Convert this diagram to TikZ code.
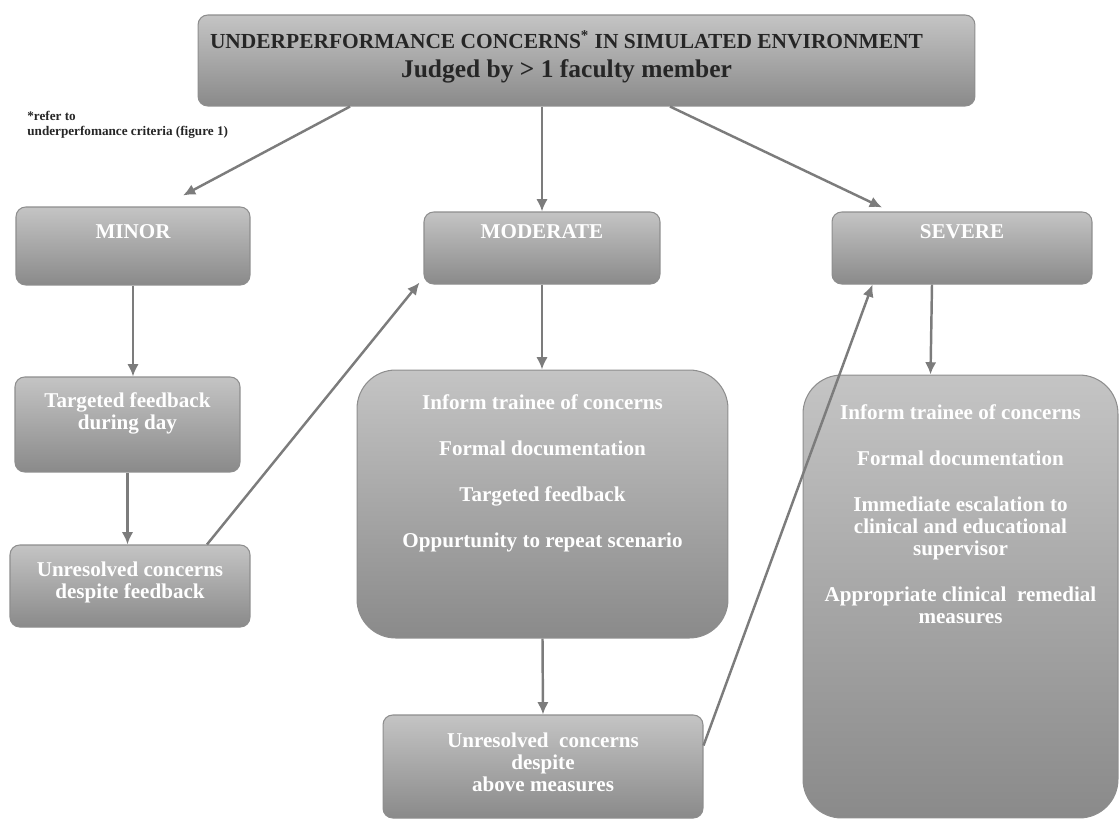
\documentclass[tikz,border=0pt]{standalone}
\usepackage{fontspec}
\setmainfont{Liberation Serif}
\usepackage{tikz}
\usetikzlibrary{arrows.meta,positioning,calc}
\definecolor{boxtop}{HTML}{C4C4C4}
\definecolor{boxbot}{HTML}{8A8A8A}
\definecolor{boxline}{HTML}{8E8E8E}
\definecolor{arrowgray}{HTML}{7C7C7C}
\definecolor{inkdark}{HTML}{262626}
\tikzset{
  flowbox/.style={rectangle,rounded corners=5.5pt,draw=boxline,top color=boxtop,
    bottom color=boxbot,line width=0.6pt},
  bigbox/.style={flowbox,rounded corners=22pt},
  boxtext/.style={inner sep=0pt,align=center,text=white,
    font=\fontsize{12}{12.5}\selectfont\bfseries},
  headtext/.style={inner sep=0pt,align=center,text=inkdark,
    font=\fontsize{12.2}{14.2}\selectfont\bfseries},
  notetext/.style={inner sep=0pt,align=left,text=inkdark,
    font=\fontsize{7.5}{8.7}\selectfont\bfseries},
  flowarrow/.style={-{Latex[length=7pt,width=6.5pt]},line width=1.4pt,color=arrowgray},
}

\begin{document}
\begin{tikzpicture}[x=0.02cm,y=-0.02cm]
  \useasboundingbox (0,0) rectangle (1120,819);
  % header
  \node[flowbox,minimum width=15.54cm,minimum height=1.82cm] (top) at (586.5,60.5) {};
  \node[headtext,below=0.32cm of top.north,xshift=-0.4cm] (toptxt)
    {UNDERPERFORMANCE CONCERNS\textsuperscript{*} IN SIMULATED ENVIRONMENT\\[0.08cm]\fontsize{14.5}{16.5}\selectfont Judged by > 1 faculty member};
  \node[notetext,anchor=north west] (note) at (27,111) {*refer to\\underperfomance criteria (figure 1)};
  % level boxes
  \node[flowbox,minimum width=4.68cm,minimum height=1.56cm] (minor) at (133,246) {};
  \node[flowbox,minimum width=4.72cm,minimum height=1.44cm] (moderate) at (542,248) {};
  \node[flowbox,minimum width=5.2cm,minimum height=1.44cm] (severe) at (962,248) {};
  \node[boxtext,below=0.36cm of minor.north] (minortxt) {MINOR};
  \node[boxtext,below=0.26cm of moderate.north] (moderatetxt) {MODERATE};
  \node[boxtext,below=0.26cm of severe.north] (severetxt) {SEVERE};
  % minor branch
  \node[flowbox,minimum width=4.5cm,minimum height=1.9cm] (tfb) at (127.5,424.5) {};
  \node[boxtext,below=0.32cm of tfb.north] (tfbtxt) {Targeted feedback\\during day};
  \node[flowbox,minimum width=4.8cm,minimum height=1.64cm] (unres1) at (130,586) {};
  \node[boxtext,below=0.34cm of unres1.north] (unres1txt) {Unresolved concerns\\despite feedback};
  % moderate branch
  \node[bigbox,minimum width=7.42cm,minimum height=5.36cm] (modbox) at (542.5,504) {};
  \node[boxtext,below=0.5cm of modbox.north] (modboxtxt) {Inform trainee of concerns\\[0.48cm]Formal documentation\\[0.48cm]Targeted feedback\\[0.48cm]Oppurtunity to repeat scenario};
  \node[flowbox,minimum width=6.4cm,minimum height=2.06cm] (unres2) at (543,766.5) {};
  \node[boxtext,below=0.36cm of unres2.north] (unres2txt) {Unresolved\ \ concerns\\despite\\above measures};
  % severe branch
  \node[bigbox,minimum width=6.3cm,minimum height=8.86cm] (sevbox) at (960.5,596.5) {};
  \node[boxtext,below=0.6cm of sevbox.north] (sevboxtxt) {Inform trainee of concerns\\[0.48cm]Formal documentation\\[0.48cm]Immediate escalation to\\clinical and educational\\supervisor\\[0.48cm]Appropriate clinical\ \ remedial\\measures};
  % connectors
  \draw[flowarrow] ([xshift=-4.73cm]top.south) -- ([xshift=1cm,yshift=0.22cm]minor.north);
  \draw[flowarrow] (top.south -| moderate.north) -- (moderate.north);
  \draw[flowarrow] ([xshift=1.67cm]top.south) -- ([xshift=-1.6cm,yshift=0.08cm]severe.north);
  \draw[flowarrow] (minor.south) -- (minor.south |- tfb.north);
  \draw[flowarrow] (tfb.south) -- (tfb.south |- unres1.north);
  \draw[flowarrow] ([xshift=1.54cm]unres1.north) -- ([xshift=-0.08cm,yshift=0.04cm]moderate.south west);
  \draw[flowarrow] (moderate.south) -- (moderate.south |- modbox.north);
  \draw[flowarrow] (modbox.south) -- (unres2.north);
  \draw[flowarrow] ([yshift=0.42cm]unres2.east) -- ([xshift=0.82cm]severe.south west);
  \draw[flowarrow] ([xshift=-0.6cm]severe.south) -- ([xshift=-0.6cm]sevbox.north);
\end{tikzpicture}
\end{document}
